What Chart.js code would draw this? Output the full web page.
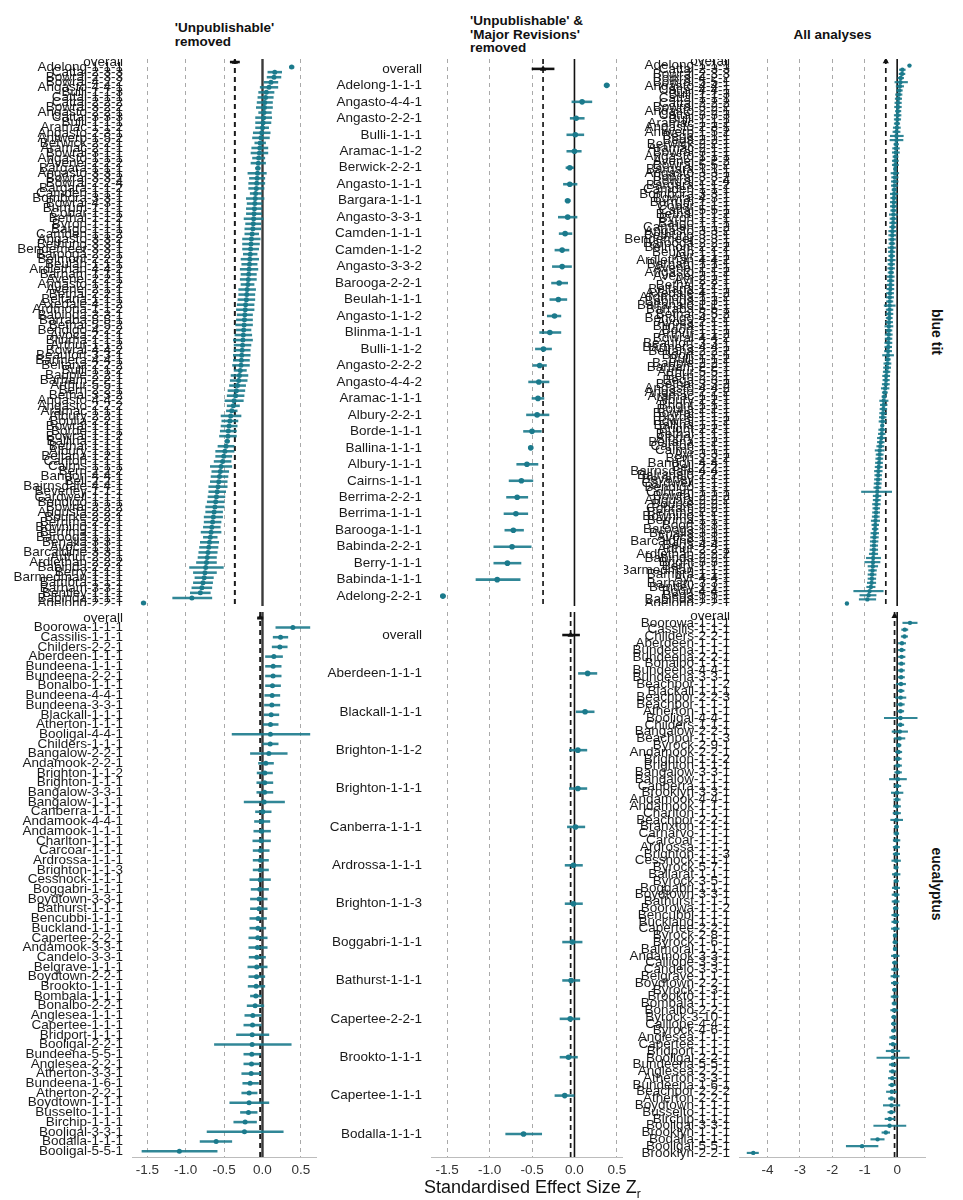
<!DOCTYPE html>
<html><head><meta charset="utf-8">
<script src="https://cdn.jsdelivr.net/npm/chart.js@4.4.1/dist/chart.umd.min.js"></script>
<style>
html,body{margin:0;padding:0;background:#fff;}
#fig{position:relative;width:963px;height:1200px;overflow:hidden;font-family:"Liberation Sans",Arial,sans-serif;background:#fff;}
canvas{position:absolute;}
.ttl{position:absolute;font-weight:bold;font-size:13.5px;line-height:13.5px;color:#111;transform:translateX(-50%);white-space:nowrap;text-align:left;}
.strip{position:absolute;font-weight:bold;font-size:14px;color:#111;white-space:nowrap;transform:translate(-50%,-50%) rotate(90deg);}
.xtitle{position:absolute;left:424px;top:1177px;font-size:18px;line-height:20px;color:#111;white-space:nowrap;}
.xtitle sub{font-size:12px;}
</style></head>
<body>
<div id="fig">
  <div class="ttl" style="left:224.5px;top:21px;">'Unpublishable'<br>removed</div>
  <div class="ttl" style="left:526.5px;top:14px;">'Unpublishable' &amp;<br>'Major Revisions'<br>removed</div>
  <div class="ttl" style="left:832.5px;top:28px;">All analyses</div>
  <div class="strip" style="left:937px;top:332px;">blue tit</div>
  <div class="strip" style="left:937px;top:884px;">eucalyptus</div>
  <canvas id="lt" width="317" height="547" style="left:0px;top:59px;"></canvas>
  <canvas id="mt" width="307" height="547" style="left:325px;top:59px;"></canvas>
  <canvas id="rt" width="302" height="547" style="left:624px;top:59px;"></canvas>
  <canvas id="lb" width="317" height="569" style="left:0px;top:612px;"></canvas>
  <canvas id="mb" width="307" height="569" style="left:325px;top:612px;"></canvas>
  <canvas id="rb" width="302" height="569" style="left:624px;top:612px;"></canvas>
  <div class="xtitle">Standardised Effect Size Z<sub>r</sub></div>
</div>
<script>
// ---------------- DATA ----------------
// x-axis ticks
const tickValuesZ = [-1.5, -1.0, -0.5, 0.0, 0.5];
const tickValuesAll = [-4, -3, -2, -1, 0];

// Blue tit, 'Unpublishable' removed (overall = [estimate, lower, upper])
const ltOverall = [-0.36, -0.42, -0.30];
const ltLabels = ['Adelong-1-1-1','Cattai-2-3-3','Bowral-2-3-3','Bowral-4-2-2','Angasto-4-4-1','Bulli-1-1-3','Cattai-1-1-1','Cattai-2-2-2','Bowral-3-2-2','Angasto-2-2-1',
'Cattai-3-3-3','Bulli-1-1-1','Aramac-1-1-2','Angasto-2-3-1','Antwerp-1-5-2','Berwick-2-2-1','Aramac-2-1-1','Bowral-3-1-1','Angasto-1-1-1','Avenel-2-2-2',
'Bargara-1-1-1','Angasto-3-3-1','Bowral-3-3-2','Bowral-2-2-4','Bargara-1-1-2','Camden-1-1-1','Bombora-3-3-1','Bowral-4-3-1','Burrum-1-1-1','Cobar-1-1-1',
'Bethal-1-1-2','Byron-1-1-1','Bargo-1-1-1','Camden-1-1-2','Angasto-3-3-2','Bethung-3-3-1','Bendemeer-3-3-1','Barooga-2-2-1','Belmont-2-2-2','Beulah-1-1-1',
'Ardlethan-4-4-2','Barham-1-1-1','Avenel-2-2-1','Angasto-1-1-2','Avenel-2-1-1','Bethal-2-2-1','Beltana-1-1-1','Axedale-4-1-2','Ardmona-1-1-2','Babinda-3-3-1',
'Barraba-5-5-1','Bethal-5-5-2','Bendigo-4-2-2','Avoca-2-1-1','Blinma-1-1-1','Arthur-1-1-2','Bowral-4-4-2','Beaufort-3-3-1','Barmera-4-4-1','Beltana-2-2-2',
'Bulli-1-1-2','Bauple-2-2-1','Barham-2-2-1','Arthur-5-5-1','Berri-2-2-1','Bethal-3-3-2','Angasto-4-4-2','Angasto-2-2-2','Aramac-1-1-1','Albury-2-2-1',
'Boulia-2-2-1','Bowral-1-1-1','Borde-1-1-1','Bowral-1-1-2','Ballina-1-1-1','Bethal-1-1-1','Albury-1-1-1','Beltana-1-2-1','Carlton-1-1-1','Cairns-1-1-1',
'Berri-2-2-2','Bandon-4-4-1','Bell-2-2-1','Bairnsdale-4-4-1','Beverley-1-1-1','Cardwell-1-1-1','Bendigo-1-1-1','Bowral-2-2-2','Augusta-2-2-2','Bourke-2-2-1',
'Berrima-2-2-1','Bowning-1-1-1','Berrima-1-1-1','Barooga-1-1-1','Benalla-3-3-1','Avoca-1-1-1','Barcaldine-3-3-1','Arthur-2-2-1','Ardlethan-2-2-2','Babinda-2-2-1',
'Berry-1-1-1','Barmedman-1-1-1','Bambra-1-1-1','Barham-3-3-1','Bentley-1-1-1','Babinda-1-1-1','Adelong-2-2-1'];
const ltEst = [0.38,0.16,0.15,0.11,0.085,0.05,0.04,0.03,0.025,0.02,
0.015,0.008,0.0,-0.01,-0.02,-0.03,-0.035,-0.04,-0.05,-0.055,
-0.06,-0.065,-0.07,-0.075,-0.08,-0.09,-0.095,-0.1,-0.105,-0.11,
-0.115,-0.12,-0.125,-0.135,-0.145,-0.15,-0.155,-0.16,-0.165,-0.17,
-0.175,-0.18,-0.185,-0.19,-0.2,-0.205,-0.21,-0.22,-0.225,-0.23,
-0.235,-0.24,-0.245,-0.25,-0.255,-0.26,-0.265,-0.27,-0.275,-0.28,
-0.29,-0.3,-0.31,-0.325,-0.34,-0.35,-0.37,-0.38,-0.4,-0.415,
-0.425,-0.435,-0.445,-0.45,-0.46,-0.475,-0.49,-0.505,-0.52,-0.54,
-0.55,-0.56,-0.57,-0.58,-0.59,-0.6,-0.61,-0.62,-0.63,-0.64,
-0.65,-0.66,-0.67,-0.68,-0.69,-0.7,-0.71,-0.72,-0.73,-0.74,
-0.75,-0.76,-0.775,-0.79,-0.81,-0.92,-1.55];
const ltLo = [0.35,0.07,0.06,0.02,-0.03,-0.05,-0.06,-0.07,-0.08,-0.05,
-0.09,-0.09,-0.09,-0.12,-0.13,-0.10,-0.14,-0.15,-0.13,-0.15,
-0.09,-0.19,-0.17,-0.18,-0.18,-0.16,-0.21,-0.20,-0.21,-0.21,
-0.24,-0.22,-0.23,-0.23,-0.26,-0.26,-0.26,-0.25,-0.28,-0.27,
-0.29,-0.28,-0.29,-0.28,-0.31,-0.31,-0.32,-0.33,-0.34,-0.33,
-0.34,-0.35,-0.34,-0.36,-0.38,-0.37,-0.37,-0.38,-0.38,-0.39,
-0.37,-0.41,-0.42,-0.43,-0.45,-0.46,-0.49,-0.46,-0.47,-0.54,
-0.53,-0.54,-0.55,-0.56,-0.49,-0.58,-0.61,-0.61,-0.63,-0.68,
-0.66,-0.67,-0.68,-0.70,-0.70,-0.71,-0.72,-0.74,-0.74,-0.76,
-0.76,-0.77,-0.80,-0.77,-0.81,-0.82,-0.83,-0.84,-0.86,-0.95,
-0.90,-0.88,-0.90,-0.92,-0.94,-1.17,-1.58];
const ltHi = [0.41,0.25,0.24,0.20,0.20,0.15,0.14,0.13,0.13,0.115,
0.12,0.11,0.08,0.10,0.09,0.04,0.07,0.07,0.03,0.04,
-0.03,0.05,0.03,0.03,0.02,-0.01,0.02,0.00,0.00,-0.01,
0.01,-0.02,-0.02,-0.05,-0.03,-0.04,-0.05,-0.07,-0.05,-0.07,
-0.06,-0.08,-0.08,-0.11,-0.09,-0.10,-0.10,-0.11,-0.11,-0.13,
-0.13,-0.13,-0.15,-0.14,-0.13,-0.15,-0.16,-0.16,-0.17,-0.17,
-0.21,-0.19,-0.20,-0.22,-0.23,-0.24,-0.25,-0.30,-0.33,-0.28,
-0.32,-0.33,-0.34,-0.34,-0.43,-0.37,-0.37,-0.40,-0.41,-0.40,
-0.44,-0.45,-0.46,-0.46,-0.48,-0.49,-0.50,-0.50,-0.52,-0.52,
-0.54,-0.55,-0.54,-0.59,-0.57,-0.58,-0.59,-0.60,-0.60,-0.51,
-0.60,-0.64,-0.65,-0.66,-0.68,-0.66,-1.52];

// Blue tit, 'Unpublishable' & 'Major Revisions' removed
const mtOverall = [-0.37, -0.50, -0.24];
const mtLabels = ['Adelong-1-1-1','Angasto-4-4-1','Angasto-2-2-1','Bulli-1-1-1','Aramac-1-1-2','Berwick-2-2-1','Angasto-1-1-1','Bargara-1-1-1','Angasto-3-3-1','Camden-1-1-1',
'Camden-1-1-2','Angasto-3-3-2','Barooga-2-2-1','Beulah-1-1-1','Angasto-1-1-2','Blinma-1-1-1','Bulli-1-1-2','Angasto-2-2-2','Angasto-4-4-2','Aramac-1-1-1',
'Albury-2-2-1','Borde-1-1-1','Ballina-1-1-1','Albury-1-1-1','Cairns-1-1-1','Berrima-2-2-1','Berrima-1-1-1','Barooga-1-1-1','Babinda-2-2-1','Berry-1-1-1',
'Babinda-1-1-1','Adelong-2-2-1'];
const mtEst = [0.38,0.09,0.02,0.01,0.0,-0.055,-0.055,-0.08,-0.08,-0.11,-0.145,-0.145,-0.18,-0.19,-0.235,-0.29,-0.365,-0.41,-0.42,-0.43,-0.44,-0.50,-0.515,-0.56,-0.625,-0.675,-0.69,-0.72,-0.735,-0.79,-0.91,-1.55];
const mtLo = [0.35,-0.03,-0.05,-0.09,-0.09,-0.10,-0.13,-0.11,-0.19,-0.18,-0.23,-0.26,-0.27,-0.29,-0.32,-0.41,-0.46,-0.49,-0.54,-0.50,-0.565,-0.60,-0.54,-0.68,-0.77,-0.80,-0.83,-0.82,-0.95,-0.95,-1.16,-1.58];
const mtHi = [0.41,0.205,0.115,0.11,0.08,-0.01,0.03,-0.05,0.03,-0.03,-0.065,-0.035,-0.08,-0.09,-0.16,-0.16,-0.27,-0.33,-0.30,-0.36,-0.30,-0.39,-0.49,-0.43,-0.49,-0.55,-0.55,-0.60,-0.51,-0.63,-0.64,-1.52];

// Blue tit, all analyses = 'Unpublishable' removed set + these extra analyses
const rtOverall = [-0.35, -0.39, -0.31];
const rtExtraLabels = ['Bowral-5-5-1','Cattai-4-4-1','Bega-1-1-1','Bega-2-2-1','Bowral-5-5-2','Cattai-5-5-1','Ayr-1-1-1','Ayr-2-2-1','Balranald-1-1-1','Boort-1-1-1',
'Boort-2-2-1','Bega-3-3-1','Bright-1-1-1','Bright-2-2-1','Ayr-3-3-1','Balranald-2-2-1','Cobram-1-1-1','Cobram-2-2-1','Boort-3-3-1','Bega-4-4-1',
'Bright-3-3-1','Ayr-4-4-1','Boort-4-4-1','Bega-5-5-1'];
const rtExtraEst = [0.10,0.07,-0.021,-0.022,-0.056,-0.112,-0.172,-0.202,-0.232,-0.257,-0.282,-0.342,-0.417,-0.467,-0.542,-0.585,-0.615,-0.645,-0.675,-0.715,-0.745,-0.78,-0.85,-0.88];
const rtExtraLo = [-0.07,-0.02,-0.21,-0.22,-0.15,-0.20,-0.26,-0.30,-0.40,-0.35,-0.45,-0.44,-0.52,-0.57,-0.65,-0.69,-1.10,-0.75,-0.78,-0.83,-1.00,-0.90,-1.34,-1.15];
const rtExtraHi = [0.32,0.16,0.19,0.18,0.04,-0.02,-0.08,-0.10,-0.06,-0.16,-0.11,-0.24,-0.31,-0.36,-0.43,-0.48,-0.17,-0.54,-0.57,-0.60,-0.53,-0.66,-0.43,-0.65];

// Eucalyptus, 'Unpublishable' removed
const lbOverall = [-0.03, -0.065, 0.005];
const lbLabels = ['Boorowa-1-1-1','Cassilis-1-1-1','Childers-2-2-1','Aberdeen-1-1-1','Bundeena-1-1-1','Bundeena-2-2-1','Bonalbo-1-1-1','Bundeena-4-4-1','Bundeena-3-3-1','Blackall-1-1-1',
'Atherton-1-1-1','Booligal-4-4-1','Childers-1-1-1','Bangalow-2-2-1','Andamook-2-2-1','Brighton-1-1-2','Brighton-1-1-1','Bangalow-3-3-1','Bangalow-1-1-1','Canberra-1-1-1',
'Andamook-4-4-1','Andamook-1-1-1','Charlton-1-1-1','Carcoar-1-1-1','Ardrossa-1-1-1','Brighton-1-1-3','Cessnock-1-1-1','Boggabri-1-1-1','Boydtown-3-3-1','Bathurst-1-1-1',
'Bencubbi-1-1-1','Buckland-1-1-1','Capertee-2-2-1','Andamook-3-3-1','Candelo-3-3-1','Belgrave-1-1-1','Boydtown-2-2-1','Brookto-1-1-1','Bombala-1-1-1','Bonalbo-2-2-1',
'Anglesea-1-1-1','Capertee-1-1-1','Bridport-1-1-1','Booligal-2-2-1','Bundeena-5-5-1','Anglesea-2-2-1','Atherton-3-3-1','Bundeena-1-6-1','Atherton-2-2-1','Boydtown-1-1-1',
'Busselto-1-1-1','Birchip-1-1-1','Booligal-3-3-1','Bodalla-1-1-1','Booligal-5-5-1'];
const lbEst = [0.396,0.235,0.226,0.148,0.139,0.138,0.130,0.126,0.122,0.113,
0.104,0.103,0.100,0.083,0.043,0.030,0.029,0.028,0.022,0.004,
-0.009,-0.010,-0.017,-0.025,-0.026,-0.027,-0.030,-0.036,-0.043,-0.044,
-0.057,-0.060,-0.062,-0.066,-0.074,-0.075,-0.078,-0.083,-0.087,-0.096,
-0.126,-0.130,-0.134,-0.135,-0.139,-0.143,-0.148,-0.161,-0.174,-0.175,
-0.183,-0.226,-0.235,-0.604,-1.083];
const lbLo = [0.174,0.139,0.126,0.039,0.039,0.039,0.039,0.030,0.026,0.022,
0.009,-0.396,0.004,-0.157,-0.052,-0.070,-0.074,-0.074,-0.239,-0.091,
-0.104,-0.113,-0.126,-0.122,-0.122,-0.122,-0.165,-0.148,-0.157,-0.157,
-0.165,-0.165,-0.178,-0.178,-0.174,-0.191,-0.178,-0.187,-0.157,-0.200,
-0.230,-0.243,-0.339,-0.626,-0.243,-0.243,-0.270,-0.257,-0.270,-0.426,
-0.287,-0.374,-0.722,-0.813,-1.570];
const lbHi = [0.617,0.330,0.322,0.261,0.243,0.243,0.235,0.226,0.226,0.213,
0.204,0.617,0.204,0.322,0.143,0.130,0.135,0.135,0.287,0.113,
0.096,0.104,0.104,0.087,0.078,0.078,0.104,0.078,0.061,0.061,
0.052,0.043,0.061,0.061,0.039,0.061,0.030,0.030,-0.013,0.017,
-0.017,-0.017,0.083,0.374,-0.026,-0.035,-0.026,-0.052,-0.070,0.083,
-0.070,-0.078,0.270,-0.400,-0.591];

// Eucalyptus, 'Unpublishable' & 'Major Revisions' removed
const mbOverall = [-0.045, -0.14, 0.06];
const mbLabels = ['Aberdeen-1-1-1','Blackall-1-1-1','Brighton-1-1-2','Brighton-1-1-1','Canberra-1-1-1','Ardrossa-1-1-1','Brighton-1-1-3','Boggabri-1-1-1','Bathurst-1-1-1','Capertee-2-2-1','Brookto-1-1-1','Capertee-1-1-1','Bodalla-1-1-1'];
const mbEst = [0.155,0.125,0.04,0.04,0.012,-0.012,-0.012,-0.024,-0.04,-0.05,-0.07,-0.115,-0.60];
const mbLo = [0.047,0.02,-0.06,-0.06,-0.083,-0.11,-0.11,-0.14,-0.14,-0.17,-0.17,-0.23,-0.81];
const mbHi = [0.264,0.232,0.146,0.146,0.122,0.094,0.094,0.09,0.063,0.063,0.035,-0.004,-0.386];

// Eucalyptus, all analyses = 'Unpublishable' removed set + these extra analyses
const rbOverall = [-0.08, -0.12, -0.04];
const rbExtraLabels = ['Beachpor-1-1-2','Beachpor-2-2-3','Beachpor-1-1-1','Beachpor-1-1-3','Byrock-2-9-1','Brooklyn-3-3-1','Beachpor-2-2-1','Branxton-1-1-1','Carnarvo-1-1-1','Byrock-5-7-1',
'Ballarat-1-1-1','Byrock-3-5-1','Boorowa-1-1-2','Byrock-2-8-1','Byrock-1-6-1','Balmoral-1-1-1','Calliope-3-3-1','Byrock-1-3-1','Byrock-3-10-1','Calliope-4-4-1',
'Byrock-4-6-1','Beachpor-2-2-2','Brooklyn-1-1-1','Brooklyn-2-2-1'];
const rbExtraEst = [0.118,0.108,0.106,0.075,0.05,-0.002,-0.019,-0.020,-0.022,-0.031,-0.032,-0.034,-0.050,-0.063,-0.064,-0.065,-0.070,-0.080,-0.100,-0.105,-0.110,-0.165,-0.350,-4.44];
const rbExtraLo = [-0.02,-0.05,-0.01,-0.09,-0.02,-0.18,-0.20,-0.08,-0.10,-0.09,-0.15,-0.10,-0.12,-0.12,-0.13,-0.12,-0.15,-0.14,-0.17,-0.18,-0.18,-0.33,-0.47,-4.63];
const rbExtraHi = [0.26,0.27,0.22,0.24,0.12,0.18,0.17,0.04,0.05,0.03,0.09,0.04,0.03,0.00,0.01,-0.01,0.01,-0.02,-0.03,-0.03,-0.04,0.00,-0.23,-4.28];

// ---------------- BUILD ----------------
const FONT = '"Liberation Sans", Arial, sans-serif';
const TEAL = '#1b7a8c';
const TEAL_CI = 'rgba(27,122,140,0.9)';

function withOverall(ov, labels, est, lo, hi) {
  return { labels: ['overall'].concat(labels), est: [ov[0]].concat(est), lo: [ov[1]].concat(lo), hi: [ov[2]].concat(hi) };
}
function mergeSorted(ov, a, b) {
  const items = [];
  [a, b].forEach(s => s.labels.forEach((l, i) => items.push({ l, e: s.est[i], lo: s.lo[i], hi: s.hi[i] })));
  items.sort((p, q) => q.e - p.e);
  return withOverall(ov, items.map(d => d.l), items.map(d => d.e), items.map(d => d.lo), items.map(d => d.hi));
}

const axisZ = { min: -1.70, max: 0.71, ticks: tickValuesZ, dec: 1 };
const axisM = { min: -1.69, max: 0.56, ticks: tickValuesZ, dec: 1 };
const axisA = { min: -4.88, max: 0.89, ticks: tickValuesAll, dec: 0 };

const styleL = { yw: 132, padR: 0,  r: 2.5, bar: 1.9, zc: '#3a3a3a', zw: 2.4, ow: 2.0 };
const styleM = { yw: 106, padR: 10, r: 2.8, bar: 1.9, zc: '#111111', zw: 1.6, ow: 1.7 };
const styleR = { yw: 115, padR: 0,  r: 2.2, bar: 1.5, zc: '#111111', zw: 1.6, ow: 1.7 };

function noPad(s) { s.paddingTop = 0; s.paddingBottom = 0; s.paddingLeft = 0; s.paddingRight = 0; }

function panel(id, rows, axis, st, showX) {
  const n = rows.labels.length;
  const yMin = -0.6, yMax = n - 1 + 0.6;
  const col = c => c.dataIndex === 0 ? '#111' : TEAL;
  new Chart(document.getElementById(id), {
    type: 'scatter',
    data: {
      datasets: [
        { type: 'line', data: [{ x: 0, y: yMin }, { x: 0, y: yMax }], borderColor: st.zc, borderWidth: st.zw, pointRadius: 0, order: 5 },
        { type: 'line', data: [{ x: rows.est[0], y: yMin }, { x: rows.est[0], y: yMax }], borderColor: '#1a1a1a', borderWidth: st.ow, borderDash: [5, 4], pointRadius: 0, order: 4 },
        { type: 'bar', indexAxis: 'y', data: rows.est.map((_, i) => ({ y: i, x: [rows.lo[i], rows.hi[i]] })),
          backgroundColor: c => c.dataIndex === 0 ? '#111' : TEAL_CI, borderWidth: 0, barThickness: st.bar, order: 3 },
        { type: 'scatter', data: rows.est.map((v, i) => ({ x: v, y: i })),
          pointRadius: c => c.dataIndex === 0 ? 3.6 : st.r,
          pointStyle: c => c.dataIndex === 0 ? 'triangle' : 'circle',
          backgroundColor: col, borderColor: col, borderWidth: 0, order: 1 }
      ]
    },
    options: {
      responsive: false, animation: false, events: [],
      layout: { padding: { left: 0, top: 0, bottom: 0, right: st.padR }, autoPadding: false },
      plugins: { legend: { display: false }, tooltip: { enabled: false }, title: { display: false } },
      scales: {
        x: {
          type: 'linear', min: axis.min, max: axis.max, offset: false,
          afterBuildTicks: s => { s.ticks = axis.ticks.map(v => ({ value: v })); },
          afterFit: s => { s.height = showX ? 24 : 0; noPad(s); },
          grid: { color: '#a9a9a9', lineWidth: 1, drawTicks: false },
          border: { display: showX, color: '#bcbcbc', width: 1, dash: [4, 4] },
          ticks: { display: showX, padding: 5, color: '#333', font: { family: FONT, size: 13.5 }, autoSkip: false, maxRotation: 0,
                   callback: v => Number(v).toFixed(axis.dec) }
        },
        y: {
          type: 'linear', min: yMin, max: yMax, reverse: true, offset: false,
          afterBuildTicks: s => { s.ticks = rows.labels.map((_, i) => ({ value: i })); },
          afterFit: s => { s.width = st.yw; noPad(s); },
          grid: { display: false, drawTicks: false },
          border: { display: false },
          ticks: { autoSkip: false, padding: 9, color: '#1a1a1a', font: { family: FONT, size: 13.5 },
                   callback: v => rows.labels[v] }
        }
      }
    }
  });
}

const ltRows = withOverall(ltOverall, ltLabels, ltEst, ltLo, ltHi);
const mtRows = withOverall(mtOverall, mtLabels, mtEst, mtLo, mtHi);
const rtRows = mergeSorted(rtOverall, { labels: ltLabels, est: ltEst, lo: ltLo, hi: ltHi },
                                      { labels: rtExtraLabels, est: rtExtraEst, lo: rtExtraLo, hi: rtExtraHi });
const lbRows = withOverall(lbOverall, lbLabels, lbEst, lbLo, lbHi);
const mbRows = withOverall(mbOverall, mbLabels, mbEst, mbLo, mbHi);
const rbRows = mergeSorted(rbOverall, { labels: lbLabels, est: lbEst, lo: lbLo, hi: lbHi },
                                      { labels: rbExtraLabels, est: rbExtraEst, lo: rbExtraLo, hi: rbExtraHi });

panel('lt', ltRows, axisZ, styleL, false);
panel('mt', mtRows, axisM, styleM, false);
panel('rt', rtRows, axisA, styleR, false);
panel('lb', lbRows, axisZ, styleL, true);
panel('mb', mbRows, axisM, styleM, true);
panel('rb', rbRows, axisA, styleR, true);
</script>
</body></html>
